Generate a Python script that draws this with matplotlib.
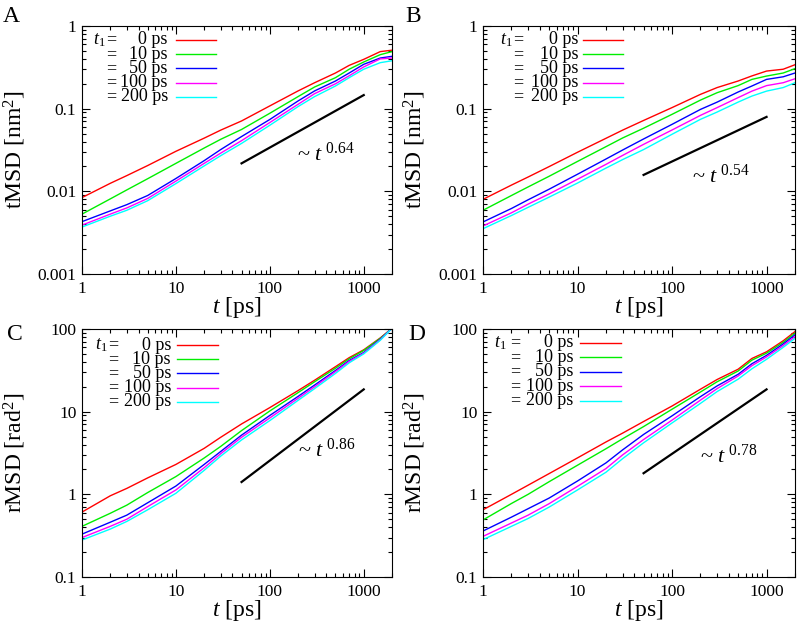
import matplotlib
matplotlib.use("Agg")
import matplotlib.pyplot as plt
from matplotlib.ticker import LogLocator, NullFormatter, FixedLocator, FixedFormatter

plt.rcParams['font.family'] = ['Liberation Serif', 'DejaVu Serif']
plt.rcParams['mathtext.fontset'] = 'custom'
plt.rcParams['mathtext.rm'] = 'Liberation Serif'
plt.rcParams['mathtext.it'] = 'Liberation Serif:italic'

# ---------------- data ----------------
t = [1, 2, 3, 5, 10, 20, 30, 50, 100, 200, 300, 500, 700, 1000, 1500, 2000]
labels_t1 = ["0 ps", "10 ps", "50 ps", "100 ps", "200 ps"]
colors = ["#ff0000", "#00ee00", "#0000ff", "#ff00ff", "#00ffff"]

# Panel A: tMSD [nm^2]
A_red   = [0.0084, 0.0125, 0.0155, 0.0205, 0.0305, 0.044, 0.055, 0.071, 0.108, 0.164, 0.206, 0.27, 0.334, 0.395, 0.49, 0.51]
A_green = [0.0053, 0.0081, 0.0104, 0.0142, 0.0218, 0.0334, 0.0426, 0.056, 0.088, 0.140, 0.183, 0.237, 0.30, 0.367, 0.45, 0.49]
A_blue  = [0.0043, 0.0058, 0.0069, 0.0089, 0.0143, 0.0235, 0.032, 0.046, 0.074, 0.124, 0.164, 0.216, 0.27, 0.344, 0.41, 0.43]
A_mag   = [0.0039, 0.0053, 0.0063, 0.0082, 0.0133, 0.0218, 0.029, 0.041, 0.068, 0.113, 0.152, 0.20, 0.25, 0.32, 0.40, 0.41]
A_cyan  = [0.0037, 0.0050, 0.0059, 0.0077, 0.0124, 0.0203, 0.027, 0.038, 0.063, 0.106, 0.140, 0.188, 0.237, 0.30, 0.36, 0.38]

# Panel B: tMSD [nm^2]
B_red   = [0.0080, 0.0119, 0.0149, 0.0199, 0.0297, 0.0438, 0.055, 0.072, 0.103, 0.149, 0.180, 0.216, 0.249, 0.285, 0.30, 0.34]
B_green = [0.0059, 0.0089, 0.0113, 0.0152, 0.0230, 0.0347, 0.0442, 0.058, 0.0854, 0.127, 0.156, 0.190, 0.226, 0.248, 0.27, 0.305]
B_blue  = [0.00426, 0.0062, 0.0079, 0.0106, 0.0161, 0.0246, 0.0316, 0.043, 0.0646, 0.098, 0.120, 0.159, 0.188, 0.226, 0.243, 0.27]
B_mag   = [0.00381, 0.0055, 0.0070, 0.0093, 0.0140, 0.0212, 0.0272, 0.037, 0.0552, 0.083, 0.103, 0.136, 0.163, 0.190, 0.206, 0.23]
B_cyan  = [0.00353, 0.0051, 0.0064, 0.0085, 0.0126, 0.0191, 0.0242, 0.032, 0.049, 0.0743, 0.091, 0.120, 0.142, 0.163, 0.18, 0.206]

# Panel C: rMSD [rad^2]
C_red   = [0.61, 0.96, 1.18, 1.58, 2.3, 3.6, 4.9, 7.1, 11.2, 18.0, 24.0, 35.0, 45.0, 56.0, 78.0, 102.0]
C_green = [0.41, 0.59, 0.74, 1.05, 1.64, 2.75, 3.8, 5.9, 10.2, 17.0, 23.0, 33.5, 43.5, 55.0, 77.0, 102.0]
C_blue  = [0.33, 0.46, 0.56, 0.79, 1.26, 2.3, 3.3, 5.2, 9.0, 15.3, 21.0, 31.5, 41.5, 52.0, 75.0, 102.0]
C_mag   = [0.30, 0.41, 0.50, 0.71, 1.13, 2.1, 3.1, 4.9, 8.4, 14.5, 20.0, 30.5, 40.5, 51.0, 74.0, 102.0]
C_cyan  = [0.28, 0.38, 0.47, 0.65, 1.03, 1.95, 2.9, 4.55, 7.8, 13.7, 19.0, 29.0, 39.0, 50.0, 73.0, 102.0]

# Panel D: rMSD [rad^2]
D_red   = [0.65, 1.0, 1.29, 1.78, 2.76, 4.3, 5.5, 7.6, 11.7, 18.7, 24.5, 32.6, 44.0, 53.0, 72.0, 93.0]
D_green = [0.49, 0.775, 1.0, 1.42, 2.25, 3.56, 4.7, 6.6, 10.7, 17.3, 23.0, 31.0, 42.0, 51.0, 69.0, 89.0]
D_blue  = [0.36, 0.53, 0.67, 0.90, 1.45, 2.4, 3.45, 5.3, 8.9, 15.2, 20.5, 28.3, 38.0, 48.0, 66.0, 85.0]
D_mag   = [0.31, 0.45, 0.56, 0.77, 1.25, 2.05, 3.0, 4.6, 7.9, 13.8, 19.0, 27.0, 36.0, 46.0, 63.0, 81.0]
D_cyan  = [0.283, 0.41, 0.51, 0.70, 1.13, 1.85, 2.7, 4.2, 7.3, 12.6, 17.5, 24.7, 33.0, 43.0, 60.0, 77.0]

# power-law guide lines: (t_start, t_end), (y_start, y_end), exponent label
A_fit_t, A_fit_y, A_exp = [50, 1000], [0.0218, 0.146], "0.64"
B_fit_t, B_fit_y, B_exp = [50, 1000], [0.0158, 0.0795], "0.54"
C_fit_t, C_fit_y, C_exp = [50, 1000], [1.41, 18.6], "0.86"
D_fit_t, D_fit_y, D_exp = [50, 1000], [1.80, 18.6], "0.78"

panels = [
    dict(letter="A", series=[A_red, A_green, A_blue, A_mag, A_cyan], ylim=(0.001, 1),
         yticks=[0.001, 0.01, 0.1, 1], yticklabels=["0.001", "0.01", "0.1", "1"],
         ylabel="tMSD [nm$^2$]", fit=(A_fit_t, A_fit_y, A_exp), lab=(195, 0.028),
         pos=[82, 26, 310, 248], leg=(0.035, 0.077, 0.277, 0.303, 0.432, 0.944, 0.0575),
         letpos=(3, 22)),
    dict(letter="B", series=[B_red, B_green, B_blue, B_mag, B_cyan], ylim=(0.001, 1),
         yticks=[0.001, 0.01, 0.1, 1], yticklabels=["0.001", "0.01", "0.1", "1"],
         ylabel="tMSD [nm$^2$]", fit=(B_fit_t, B_fit_y, B_exp), lab=(161, 0.0153),
         pos=[483, 26, 312, 248], leg=(0.0545, 0.096, 0.305, 0.32, 0.45, 0.944, 0.0575),
         letpos=(405, 22)),
    dict(letter="C", series=[C_red, C_green, C_blue, C_mag, C_cyan], ylim=(0.1, 100),
         yticks=[0.1, 1, 10, 100], yticklabels=["0.1", "1", "10", "100"],
         ylabel="rMSD [rad$^2$]", fit=(C_fit_t, C_fit_y, C_exp), lab=(200, 3.45),
         pos=[82, 329, 310, 248], leg=(0.042, 0.084, 0.287, 0.306, 0.439, 0.935, 0.057),
         letpos=(7, 340)),
    dict(letter="D", series=[D_red, D_green, D_blue, D_mag, D_cyan], ylim=(0.1, 100),
         yticks=[0.1, 1, 10, 100], yticklabels=["0.1", "1", "10", "100"],
         ylabel="rMSD [rad$^2$]", fit=(D_fit_t, D_fit_y, D_exp), lab=(198, 2.86),
         pos=[483, 329, 312, 248], leg=(0.035, 0.087, 0.29, 0.311, 0.443, 0.944, 0.0585),
         letpos=(408, 340)),
]

W, H = 798, 626
fig = plt.figure(figsize=(W / 100, H / 100), dpi=100)

for p in panels:
    l, tp, w, h = p["pos"]
    ax = fig.add_axes([l / W, (H - tp - h) / H, w / W, h / H])
    for ys, c in zip(p["series"], colors):
        ax.plot(t, ys, color=c, lw=1.0)
    ft, fy, fe = p["fit"]
    ax.plot(ft, fy, color="black", lw=1.6)
    ax.text(p["lab"][0], p["lab"][1], "~ $t^{\\ %s}$" % fe, fontsize=16,
            ha="left", va="center")
    ax.set_xscale("log")
    ax.set_yscale("log")
    ax.set_xlim(1, 2000)
    ax.set_ylim(*p["ylim"])
    ax.xaxis.set_major_locator(FixedLocator([1, 10, 100, 1000]))
    ax.xaxis.set_major_formatter(FixedFormatter(["1", "10", "100", "1000"]))
    ax.yaxis.set_major_locator(FixedLocator(p["yticks"]))
    ax.yaxis.set_major_formatter(FixedFormatter(p["yticklabels"]))
    ax.xaxis.set_minor_locator(LogLocator(base=10, subs=range(2, 10)))
    ax.yaxis.set_minor_locator(LogLocator(base=10, subs=range(2, 10)))
    ax.xaxis.set_minor_formatter(NullFormatter())
    ax.yaxis.set_minor_formatter(NullFormatter())
    ax.tick_params(which="both", direction="in", top=True, right=True, width=0.8)
    ax.tick_params(which="major", length=6, labelsize=12.5)
    ax.tick_params(axis="x", which="major", pad=5)
    ax.tick_params(axis="y", which="major", pad=4)
    ax.tick_params(which="minor", length=3)
    for s in ax.spines.values():
        s.set_linewidth(0.8)
    ax.set_xlabel("$t$ [ps]", fontsize=17)
    ax.set_ylabel(p["ylabel"], fontsize=17)
    ax.xaxis.set_label_coords(0.5, -0.085)
    ax.yaxis.set_label_coords(-0.175, 0.5)

    tx, eqx, valr, l0, l1, y0, dy = p["leg"]
    for i, (lab, c) in enumerate(zip(labels_t1, colors)):
        yy = y0 - i * dy
        if i == 0:
            ax.text(tx, yy, "$t_{1}$", transform=ax.transAxes, fontsize=13,
                    ha="left", va="center")
        ax.text(eqx, yy, "=", transform=ax.transAxes, fontsize=13, ha="left", va="center")
        ax.text(valr, yy, lab, transform=ax.transAxes, fontsize=13, ha="right", va="center")
        ax.plot([l0, l1], [yy, yy], transform=ax.transAxes, color=c, lw=1.0)

    fig.text(p["letpos"][0] / W, 1 - p["letpos"][1] / H, p["letter"], fontsize=17,
             ha="left", va="baseline")

fig.savefig("out.png", dpi=100)
